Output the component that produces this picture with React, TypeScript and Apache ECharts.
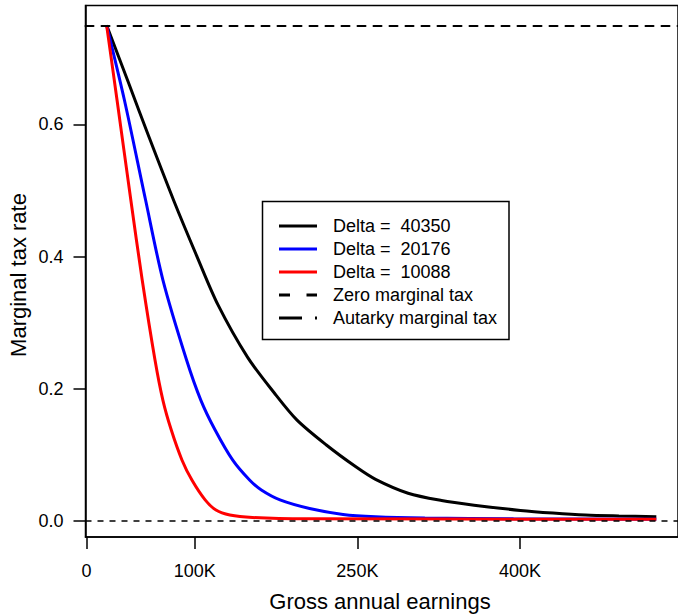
import React, { useEffect, useRef } from "react";
import * as echarts from "echarts";

// Gross annual earnings in thousands, marginal tax rate
const X_TICKS = [0, 100, 250, 400];
const Y_TICKS = [0, 0.2, 0.4, 0.6];

const X_BLACK = [18.6, 39.5, 57.7, 80.5, 102.3, 121.4, 148.6, 173.2, 194.1, 221.4, 248.6, 266.8, 296.8, 327.7, 357.7, 400.5, 430.5, 460.5, 491.4, 525.9];
const Y_BLACK = [0.75, 0.66, 0.581, 0.485, 0.399, 0.327, 0.248, 0.194, 0.153, 0.115, 0.082, 0.063, 0.042, 0.031, 0.024, 0.016, 0.012, 0.009, 0.0076, 0.0065];

const X_BLUE = [18.6, 35.0, 54.5, 70.5, 92.3, 105.5, 118.6, 135.0, 150.5, 161.4, 178.6, 205.9, 236.8, 266.8, 312.3, 394.1, 525.9];
const Y_BLUE = [0.75, 0.637, 0.486, 0.365, 0.244, 0.183, 0.138, 0.092, 0.062, 0.047, 0.032, 0.019, 0.01, 0.0065, 0.0045, 0.0033, 0.0027];

const X_RED = [18.6, 28.2, 40.9, 51.4, 63.2, 70.5, 78.2, 88.2, 97.3, 109.5, 119.5, 132.3, 153.2, 203.2, 525.9];
const Y_RED = [0.75, 0.637, 0.486, 0.365, 0.244, 0.183, 0.138, 0.092, 0.062, 0.032, 0.0166, 0.0091, 0.0053, 0.0033, 0.0027];

const AUTARKY_RATE = 0.75;
const ZERO_RATE = 0;

const LEGEND_LABELS = ["Delta =  40350", "Delta =  20176", "Delta =  10088", "Zero marginal tax", "Autarky marginal tax"];

const FONT = "Liberation Sans, Arial, Helvetica, sans-serif";

function pairs(xs: number[], ys: number[]) {
  return xs.map((x, i) => [x, ys[i]]);
}

export default function App() {
  const ref = useRef<HTMLDivElement>(null);
  useEffect(() => {
    document.body.style.margin = "0";
    const chart = echarts.init(ref.current!, null, { renderer: "svg" });
    const curve = (name: string, color: string, xs: number[], ys: number[], extra: any = {}) => ({
      type: "line",
      name,
      data: pairs(xs, ys),
      showSymbol: false,
      symbol: "none",
      smooth: 0.3,
      lineStyle: { color, width: 3 },
      ...extra,
    });
    const rowsY = [226, 249, 272, 295, 318];
    const legendGraphics: any[] = [
      {
        type: "rect",
        shape: { x: 262.5, y: 201.5, width: 246.5, height: 138 },
        style: { fill: "#fff", stroke: "#000", lineWidth: 1.5 },
        z: 10,
      },
    ];
    const sampleStyles = [
      { stroke: "#000", lineWidth: 3 },
      { stroke: "#0000ff", lineWidth: 3 },
      { stroke: "#ff0000", lineWidth: 3 },
      { stroke: "#000", lineWidth: 3, lineDash: [11, 16.5] },
      { stroke: "#000", lineWidth: 3, lineDash: [23, 13, 2.5, 100] },
    ];
    rowsY.forEach((y, i) => {
      legendGraphics.push({
        type: "line",
        shape: { x1: 279, y1: y, x2: 317, y2: y },
        style: sampleStyles[i],
        z: 11,
      });
      legendGraphics.push({
        type: "text",
        x: 333,
        y,
        style: { text: LEGEND_LABELS[i], fill: "#000", font: `18px ${FONT}`, align: "left", verticalAlign: "middle" },
        z: 11,
      });
    });
    chart.setOption({
      animation: false,
      backgroundColor: "#fff",
      grid: { left: 85.5, right: -9, top: 5.5, bottom: 77, show: true, borderColor: "#000", borderWidth: 1.5, backgroundColor: "transparent" },
      xAxis: {
        type: "value",
        min: -0.9,
        max: 545.9,
        splitLine: { show: false },
        axisLine: { show: true, onZero: false, lineStyle: { color: "#000", width: 1.5 } },
        axisTick: { show: true, length: 12, customValues: X_TICKS, lineStyle: { color: "#000", width: 1.5 } },
        axisLabel: {
          customValues: X_TICKS,
          margin: 25,
          color: "#000",
          fontSize: 18,
          fontFamily: FONT,
          formatter: (v: number) => (v === 0 ? "0" : v + "K"),
        },
      },
      yAxis: {
        type: "value",
        min: -0.0242,
        max: 0.78,
        splitLine: { show: false },
        axisLine: { show: true, onZero: false, lineStyle: { color: "#000", width: 1.5 } },
        axisTick: { show: true, length: 12, customValues: Y_TICKS, lineStyle: { color: "#000", width: 1.5 } },
        axisLabel: {
          customValues: Y_TICKS,
          margin: 22,
          color: "#000",
          fontSize: 18,
          fontFamily: FONT,
          formatter: (v: number) => v.toFixed(1),
        },
      },
      series: [
        curve("Delta = 40350", "#000000", X_BLACK, Y_BLACK, {
          markLine: {
            silent: true,
            symbol: "none",
            label: { show: false },
            data: [
              { yAxis: AUTARKY_RATE, lineStyle: { color: "#000", width: 2, type: [8, 8], cap: "round" } },
              { yAxis: ZERO_RATE, lineStyle: { color: "#000", width: 1.5, type: [6, 6] } },
            ],
          },
        }),
        curve("Delta = 20176", "#0000ff", X_BLUE, Y_BLUE),
        curve("Delta = 10088", "#ff0000", X_RED, Y_RED),
      ],
      graphic: [
        {
          type: "text",
          x: 380,
          y: 601,
          style: { text: "Gross annual earnings", fill: "#000", font: `22px ${FONT}`, align: "center", verticalAlign: "middle" },
        },
        {
          type: "text",
          x: 18,
          y: 275,
          rotation: Math.PI / 2,
          style: { text: "Marginal tax rate", fill: "#000", font: `22px ${FONT}`, align: "center", verticalAlign: "middle" },
        },
        ...legendGraphics,
      ],
    });
    return () => chart.dispose();
  }, []);
  return <div ref={ref} style={{ width: 678, height: 614 }} />;
}
